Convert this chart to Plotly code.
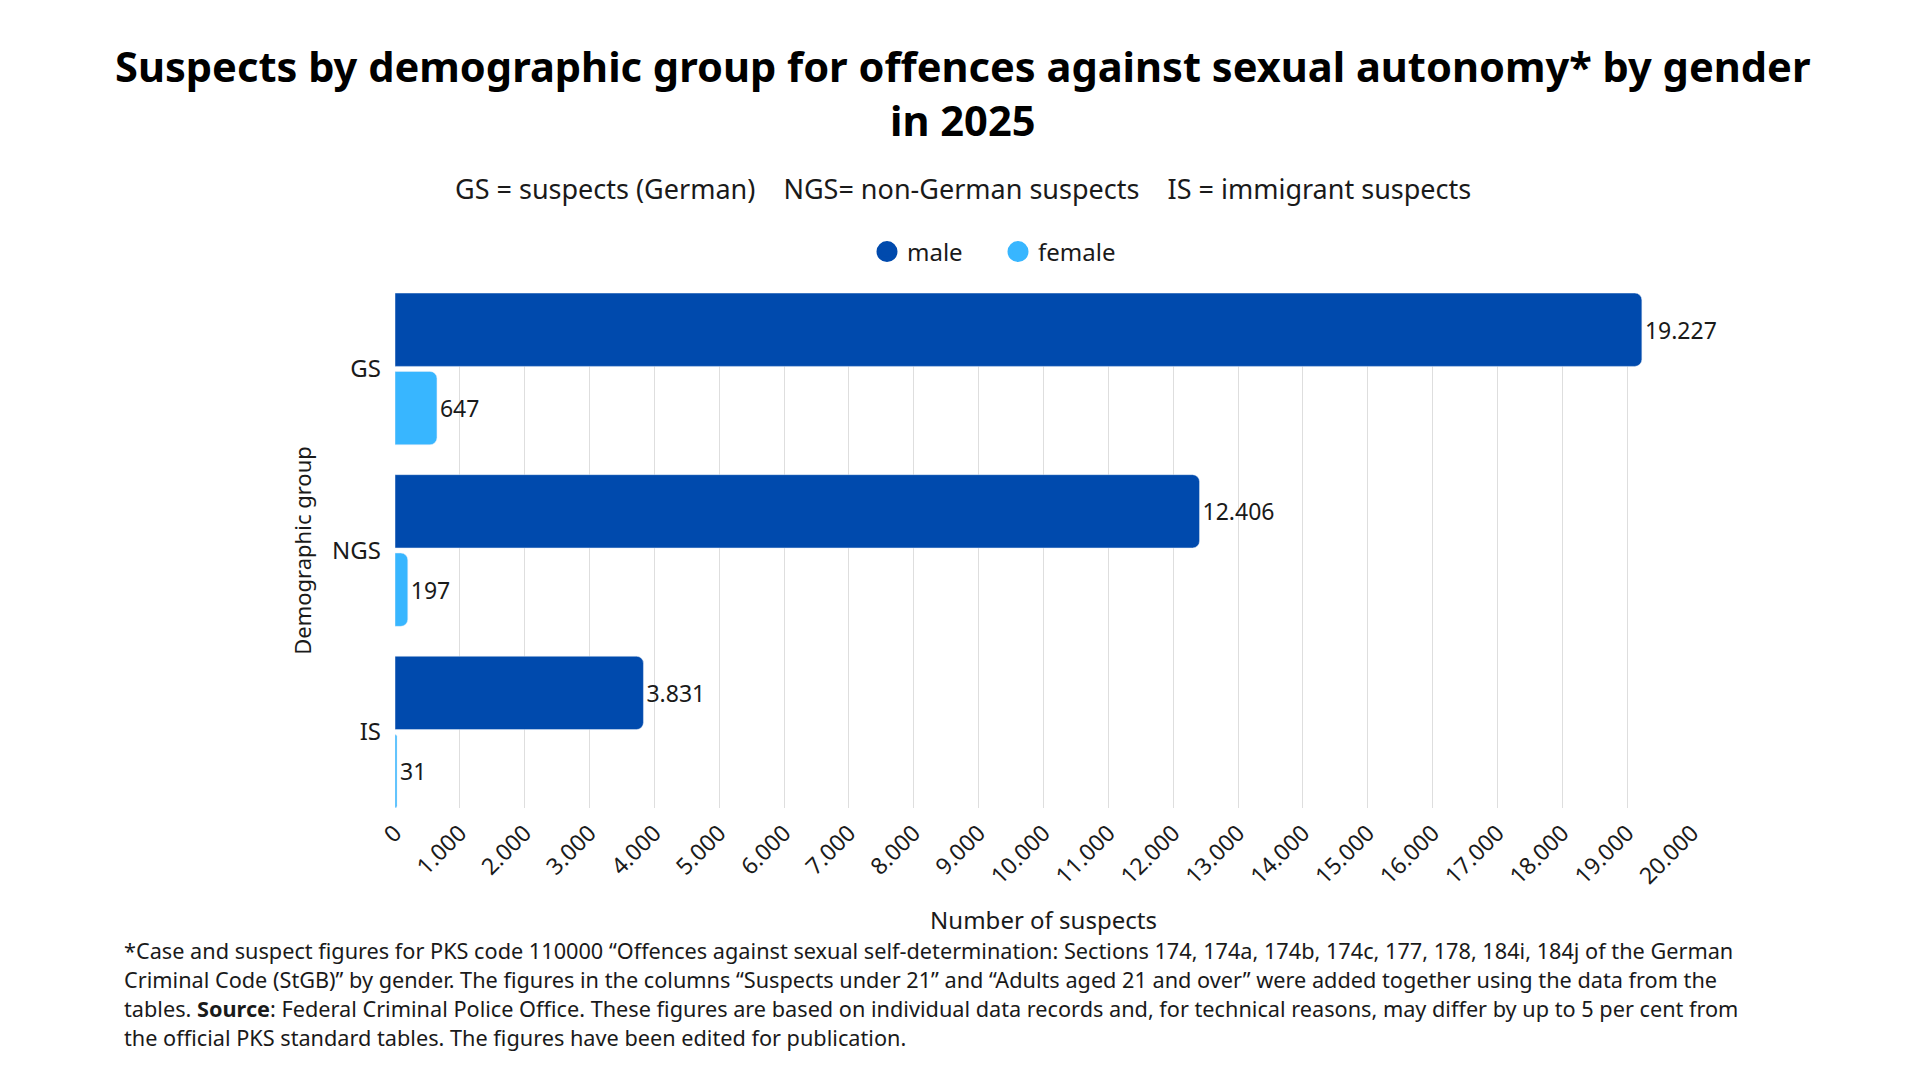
import plotly.graph_objects as go

# data
groups = ["GS", "NGS", "IS"]
male = [19227, 12406, 3831]
female = [647, 197, 31]
x_ticks = list(range(0, 20001, 1000))

blue_m = "#004AAD"
blue_f = "#38B6FF"
font = "Noto Sans"

# page has an 8px body margin, so the figure is 1904x1064
W, H = 1904, 1064
L, R, T, B = 387, 220, 285, 264


def px(x):
    return (x - L) / (W - L - R)


def py(y):
    return (H - B - y) / (H - T - B)


fig = go.Figure()
fig.add_trace(go.Bar(y=groups, x=male, orientation="h", name="male",
                     marker_color=blue_m, showlegend=False,
                     texttemplate="%{x:,d}", textposition="outside",
                     textfont=dict(size=23, color="#1a1a1a"), cliponaxis=False))
fig.add_trace(go.Bar(y=groups, x=female, orientation="h", name="female",
                     marker_color=blue_f, showlegend=False,
                     texttemplate="%{x:,d}", textposition="outside",
                     textfont=dict(size=23, color="#1a1a1a"), cliponaxis=False))

# legend entries with round markers
for nm, c in [("male", blue_m), ("female", blue_f)]:
    fig.add_trace(go.Scatter(x=[None], y=[None], mode="markers", name=nm,
                             marker=dict(symbol="circle", size=16, color=c,
                                         line=dict(color=c, width=5))))

fig.update_layout(
    width=W, height=H,
    margin=dict(l=L, r=R, t=T, b=B),
    paper_bgcolor="white", plot_bgcolor="white",
    font=dict(family=font, size=22, color="#1a1a1a"),
    separators=",.",
    barmode="group", bargap=0.137, bargroupgap=0.064, barcornerradius=7,
    legend=dict(orientation="h", xref="container", yref="container",
                x=990 / W, xanchor="center", y=1 - 244 / H, yanchor="middle",
                font=dict(size=24), itemsizing="trace", itemwidth=30,
                entrywidth=86, traceorder="normal"),
)

fig.update_xaxes(range=[0, 20000], tickvals=x_ticks, tickformat=",d",
                 tickangle=-45, tickfont=dict(size=23), ticklabelstandoff=6,
                 showgrid=True, gridcolor="#dedede", gridwidth=1,
                 zeroline=False, showline=False,
                 title=dict(text="Number of suspects", font=dict(size=24), standoff=22))
fig.update_yaxes(categoryorder="array", categoryarray=groups,
                 range=[2.418, -0.418], tickfont=dict(size=24),
                 showgrid=False, zeroline=False, showline=False,
                 ticklabelstandoff=13,
                 title=dict(text="Demographic group", font=dict(size=22), standoff=14))

# title
fig.add_annotation(xref="paper", yref="paper", x=px(955), y=py(28), yanchor="top",
                   xanchor="center", showarrow=False, align="center",
                   text="<b>Suspects by demographic group for offences against sexual autonomy* by gender<br>in 2025</b>",
                   font=dict(size=41.6, color="#000000"))
# subtitle
fig.add_annotation(xref="paper", yref="paper", x=px(955), y=py(181), yanchor="middle",
                   xanchor="center", showarrow=False,
                   text="GS = suspects (German)&nbsp;&nbsp;&nbsp;&nbsp;NGS= non-German suspects&nbsp;&nbsp;&nbsp;&nbsp;IS = immigrant suspects",
                   font=dict(size=27, color="#1a1a1a"))
# footnote, one annotation per line
note_lines = [
    "*Case and suspect figures for PKS code 110000 “Offences against sexual self-determination: Sections 174, 174a, 174b, 174c, 177, 178, 184i, 184j of the German",
    "Criminal Code (StGB)” by gender. The figures in the columns “Suspects under 21” and “Adults aged 21 and over” were added together using the data from the",
    "tables. <b>Source</b>: Federal Criminal Police Office. These figures are based on individual data records and, for technical reasons, may differ by up to 5 per cent from",
    "the official PKS standard tables. The figures have been edited for publication.",
]
for i, line in enumerate(note_lines):
    fig.add_annotation(xref="paper", yref="paper", x=px(114), y=py(942.5 + 29.1 * i),
                       yanchor="middle", xanchor="left", showarrow=False, align="left",
                       text=line, font=dict(size=21.7, color="#1a1a1a"))

fig.write_html("out.html")
